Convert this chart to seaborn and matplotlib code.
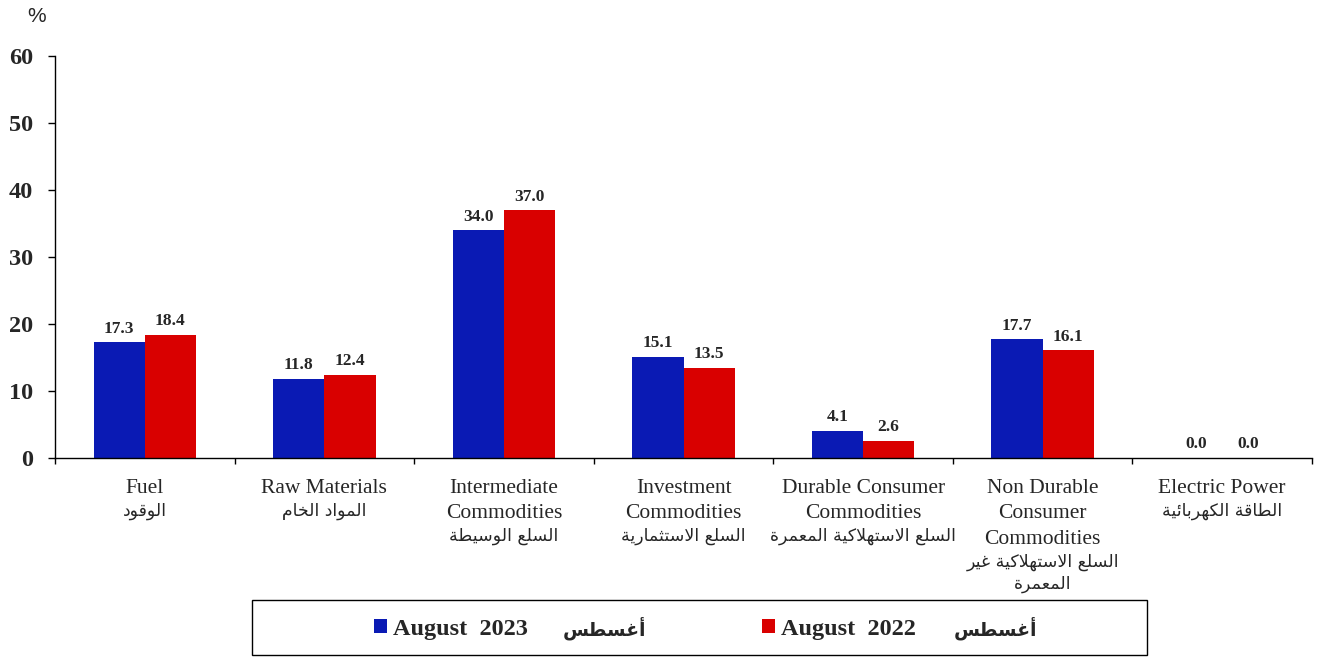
import numpy as np
import pandas as pd
import seaborn as sns
import matplotlib
matplotlib.use("Agg")
import matplotlib.pyplot as plt
from matplotlib.patches import Rectangle

# --- data ---------------------------------------------------------------
categories_en = ["Fuel", "Raw Materials", "Intermediate\nCommodities",
                 "Investment\nCommodities", "Durable Consumer\nCommodities",
                 "Non Durable\nConsumer\nCommodities", "Electric Power"]
categories_ar = ["الوقود", "المواد الخام", "السلع الوسيطة", "السلع الاستثمارية",
                 "السلع الاستهلاكية المعمرة", "السلع الاستهلاكية غير\nالمعمرة",
                 "الطاقة الكهربائية"]
values_2023 = [17.3, 11.8, 34.0, 15.1, 4.1, 17.7, 0.0]
values_2022 = [18.4, 12.4, 37.0, 13.5, 2.6, 16.1, 0.0]
series_en = ["August  2023", "August  2022"]
series_ar = "أغسطس"
y_ticks = [0, 10, 20, 30, 40, 50, 60]

BLUE = "#0A1AB4"
RED = "#D90000"

# --- tiny arabic shaper (matplotlib has no text shaping) -----------------
FORMS = {
    "آ": (0xFE81, 2), "أ": (0xFE83, 2), "إ": (0xFE87, 2), "ئ": (0xFE89, 4),
    "ا": (0xFE8D, 2), "ب": (0xFE8F, 4), "ة": (0xFE93, 2), "ت": (0xFE95, 4),
    "ث": (0xFE99, 4), "ج": (0xFE9D, 4), "ح": (0xFEA1, 4), "خ": (0xFEA5, 4),
    "د": (0xFEA9, 2), "ذ": (0xFEAB, 2), "ر": (0xFEAD, 2), "ز": (0xFEAF, 2),
    "س": (0xFEB1, 4), "ش": (0xFEB5, 4), "ص": (0xFEB9, 4), "ض": (0xFEBD, 4),
    "ط": (0xFEC1, 4), "ظ": (0xFEC5, 4), "ع": (0xFEC9, 4), "غ": (0xFECD, 4),
    "ف": (0xFED1, 4), "ق": (0xFED5, 4), "ك": (0xFED9, 4), "ل": (0xFEDD, 4),
    "م": (0xFEE1, 4), "ن": (0xFEE5, 4), "ه": (0xFEE9, 4), "و": (0xFEED, 2),
    "ى": (0xFEEF, 2), "ي": (0xFEF1, 4),
    "لآ": (0xFEF5, 2), "لأ": (0xFEF7, 2), "لإ": (0xFEF9, 2), "لا": (0xFEFB, 2),
}


def shape_ar(line):
    units, i = [], 0
    while i < len(line):
        if len(line[i:i + 2]) == 2 and line[i:i + 2] in FORMS:
            units.append(line[i:i + 2]); i += 2
        else:
            units.append(line[i]); i += 1
    out = []
    for k, u in enumerate(units):
        if u not in FORMS:
            out.append(u)
            continue
        base, n = FORMS[u]
        prev = units[k - 1] if k > 0 else None
        nxt = units[k + 1] if k + 1 < len(units) else None
        jp = prev in FORMS and FORMS[prev][1] == 4
        jn = n == 4 and nxt in FORMS
        out.append(chr(base + (3 if jp and jn else 1 if jp else 2 if jn else 0)))
    return "".join(reversed(out))


df = pd.DataFrame({
    "cat": categories_en * 2,
    "value": values_2023 + values_2022,
    "series": [series_en[0]] * 7 + [series_en[1]] * 7,
})

# --- plot ---------------------------------------------------------------
sns.set_style("ticks")
plt.rcParams["font.family"] = ["Liberation Serif", "DejaVu Sans"]

fig = plt.figure(figsize=(13.18, 6.57), dpi=100)
ax = fig.add_axes([55 / 1318, 1 - 458 / 657, 1257 / 1318, 402 / 657])

sns.barplot(data=df, x="cat", y="value", hue="series", palette=[BLUE, RED],
            width=0.57, linewidth=0, saturation=1, ax=ax)

for cont in ax.containers:
    ax.bar_label(cont, fmt="%.1f", padding=4, fontsize=12.5, fontweight="bold")

ax.set_ylim(0, 60)
ax.set_xlim(-0.5, 6.5)
ax.set_yticks(y_ticks)
ax.set_yticklabels([str(t) for t in y_ticks], fontsize=17.5, fontweight="bold")
ax.tick_params(axis="y", length=5, width=1, pad=11, color="black")

# tick marks between the categories, labels drawn line by line
ax.set_xticks(np.arange(-0.5, 7, 1))
ax.set_xticklabels([""] * 8)
ax.tick_params(axis="x", length=4.5, width=1, color="black")
px = 72 / 100
for i, (en, ar) in enumerate(zip(categories_en, categories_ar)):
    off = 35
    for line in en.split("\n"):
        ax.annotate(line, xy=(i, 0), xytext=(0, -off * px), textcoords="offset points",
                    ha="center", va="baseline", fontsize=15.5, family="Liberation Serif")
        off += 25.5
    off -= 3
    for line in ar.split("\n"):
        ax.annotate(shape_ar(line), xy=(i, 0), xytext=(0, -off * px), textcoords="offset points",
                    ha="center", va="baseline", fontsize=12.5, family="DejaVu Sans")
        off += 22

ax.set_xlabel("")
ax.set_ylabel("")
sns.despine(ax=ax)
for s in ["left", "bottom"]:
    ax.spines[s].set_color("black")
    ax.spines[s].set_linewidth(1)

fig.text(37 / 1318, 1 - 16 / 657, "%", family="Liberation Sans", fontsize=15,
         ha="center", va="center")

# legend: two single-entry legends plus the arabic words and a frame
handles, labs = ax.get_legend_handles_labels()
ax.get_legend().remove()
for h, lab, x0, xar in zip(handles, labs, [362, 750], [604, 995]):
    fig.legend([h], [lab], loc="center left", bbox_to_anchor=(x0 / 1318, 1 - 629 / 657),
               frameon=False, borderpad=0, handlelength=0.54, handleheight=0.54,
               handletextpad=0.25,
               prop={"family": "Liberation Serif", "weight": "bold", "size": 17.5})
    fig.text(xar / 1318, 1 - 628 / 657, shape_ar(series_ar), family="DejaVu Sans",
             fontweight="bold", fontsize=13.5, ha="center", va="center")
fig.add_artist(Rectangle((252 / 1318, 1 - 655 / 657), 895 / 1318, 55 / 657,
                         transform=fig.transFigure, fill=False, edgecolor="black", lw=1))

fig.savefig("out.png", dpi=100)
